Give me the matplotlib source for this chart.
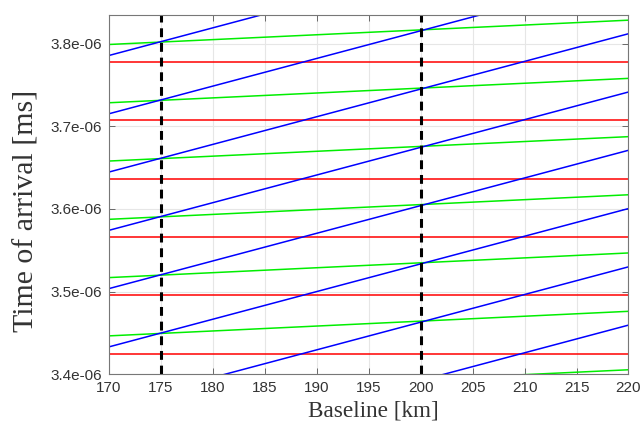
import numpy as np
import matplotlib
matplotlib.use("Agg")
from matplotlib import pyplot as plt

# baseline range (km)
x_ends = [170, 220]

# values read at x=170 and x=220 (x1e-6)
red_levels = [3.4251, 3.4956, 3.5661, 3.6366, 3.7071, 3.7776]
blue_start = [3.2922, 3.3627, 3.4332, 3.5037, 3.5742, 3.6447, 3.7152, 3.7857]
blue_end = [3.4595, 3.5300, 3.6005, 3.6710, 3.7415, 3.8120, 3.8825, 3.9530]
green_start = [3.3760, 3.4465, 3.5170, 3.5875, 3.6580, 3.7285, 3.7990]
green_end = [3.4055, 3.4762, 3.5468, 3.6172, 3.6875, 3.7580, 3.8284]
dashed_x = [175, 200]

x_ticks = [170, 175, 180, 185, 190, 195, 200, 205, 210, 215, 220]
y_ticks = [3.4, 3.5, 3.6, 3.7, 3.8]
y_tick_labels = ["3.4e-06", "3.5e-06", "3.6e-06", "3.7e-06", "3.8e-06"]

fig = plt.figure(figsize=(6.43, 4.23), dpi=100)
ax = fig.add_axes([0.1695, 0.1151, 0.9774 - 0.1695, 0.9652 - 0.1151])

for r in red_levels:
    ax.plot(x_ends, [r * 1e-6, r * 1e-6], color="#ff0000", lw=1.1)
for a, b in zip(green_start, green_end):
    ax.plot(x_ends, [a * 1e-6, b * 1e-6], color="#00ee00", lw=1.1)
for a, b in zip(blue_start, blue_end):
    ax.plot(x_ends, [a * 1e-6, b * 1e-6], color="#0000ff", lw=1.1)
for xd in dashed_x:
    ax.axvline(xd, color="black", lw=2.2, ls=(0, (2.9, 1.9)))

ax.set_xlim(170, 220)
ax.set_ylim(3.4e-6, 3.835e-6)
ax.set_xticks(x_ticks)
ax.set_yticks([v * 1e-6 for v in y_ticks])
ax.set_yticklabels(y_tick_labels)
ax.grid(True, color="#e6e6e6", lw=0.8)
ax.set_axisbelow(True)
ax.tick_params(direction="in", top=True, right=True, length=4, width=0.6,
               color="#555555", labelsize=11, labelcolor="#333333", pad=5)
for lab in ax.get_xticklabels() + ax.get_yticklabels():
    lab.set_family("Liberation Sans")
for s in ax.spines.values():
    s.set_color("#777777")
    s.set_linewidth(0.8)

fig.text(373 / 643, 1 - 411 / 423, "Baseline [km]", family="Liberation Serif",
         fontsize=16.7, color="#333333", ha="center", va="center")
fig.text(27 / 643, 1 - 211 / 423, "Time of arrival [ms]", family="Liberation Serif",
         fontsize=21.5, color="#333333", ha="center", va="center", rotation=90)

fig.savefig("out.png", dpi=100)
